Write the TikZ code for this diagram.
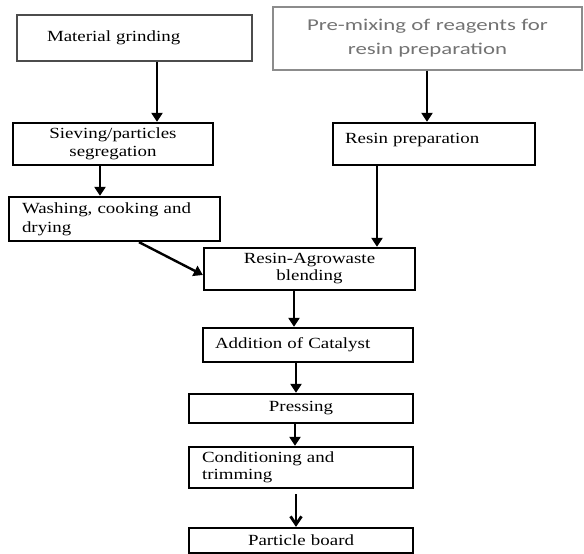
\documentclass[tikz,border=0pt]{standalone}
\usepackage{fontspec}
\setmainfont[FakeStretch=1.22]{Liberation Serif}
\newfontfamily\calfont[FakeStretch=1.38]{Carlito}
\usetikzlibrary{arrows.meta}
\begin{document}
\begin{tikzpicture}[x=1pt,y=-1pt,
  box/.style={draw=black, line width=2.3pt, rectangle, inner ysep=0pt,
    font=\fontsize{15.5}{18}\selectfont},
  thinbox/.style={draw=black!55, line width=1.1pt, rectangle, inner ysep=0pt},
  arr/.style={line width=2.8pt, -{Triangle[length=9pt,width=11pt]}}]
\useasboundingbox (0,0) rectangle (584,554);
\fill[white] (0,0) rectangle (584,554);

\node[thinbox, draw=black!70, minimum width=235pt, minimum height=46pt, inner xsep=30pt,
  text width=175pt, align=left, font=\fontsize{15.5}{18}\selectfont]
  (grind) at (134.5,38) {Material grinding};
\node[thinbox, draw=black!45, minimum width=309pt, minimum height=63pt,
  text width=300pt, align=center, text=black!55,
  font=\calfont\fontsize{16.5}{24}\selectfont]
  (premix) at (427.5,38.5) {Pre-mixing of reagents for\\resin preparation};

\node[box, minimum width=200pt, minimum height=42pt, text width=190pt, align=center]
  (sieve) at (113,144) {Sieving/particles\\segregation};
\node[box, minimum width=211pt, minimum height=44pt, inner xsep=13pt,
  text width=185pt, align=left, font=\fontsize{15.5}{19}\selectfont]
  (wash) at (114.5,219) {Washing, cooking and\\drying};
\node[box, minimum width=202pt, minimum height=42pt, inner xsep=12pt,
  text width=178pt, align=left]
  (resin) at (434,144) {Resin preparation\\[-6pt]~};
\node[box, minimum width=211pt, minimum height=42pt, text width=200pt,
  align=center, font=\fontsize{15.5}{17}\selectfont]
  (blend) at (309.5,269) {Resin-Agrowaste\\blending};
\node[box, minimum width=210pt, minimum height=34pt, inner xsep=12pt,
  text width=186pt, align=left]
  (addit) at (308,345) {Addition of Catalyst};
\node[box, minimum width=224pt, minimum height=29pt, text width=214pt, align=center]
  (press) at (301,408.5) {Pressing};
\node[box, minimum width=224pt, minimum height=41pt, inner xsep=13pt,
  text width=198pt, align=left, font=\fontsize{15.5}{17}\selectfont]
  (cond) at (301,467.5) {Conditioning and\\trimming};
\node[box, minimum width=224pt, minimum height=25pt, text width=214pt, align=center]
  (board) at (301,540.5) {Particle board};

\coordinate (x1) at (157,0);
\coordinate (x2) at (427,0);
\coordinate (x3) at (100,0);
\coordinate (x4) at (139,0);
\coordinate (x5) at (377,0);
\coordinate (x6) at (294,0);
\coordinate (x7) at (296,0);
\coordinate (x8) at (295,0);

\draw[arr] (grind.south -| x1) -- (sieve.north -| x1);
\draw[arr] (premix.south -| x2) -- (resin.north -| x2);
\draw[arr] (sieve.south -| x3) -- (wash.north -| x3);
\draw[arr, line width=2.4pt] (wash.south -| x4) -- ([yshift=-6pt]blend.west);
\draw[arr] (resin.south -| x5) -- (blend.north -| x5);
\draw[arr] (blend.south -| x6) -- (addit.north -| x6);
\draw[arr] (addit.south -| x7) -- (press.north -| x7);
\draw[arr] (press.south -| x8) -- (cond.north -| x8);
\draw[line width=2.8pt, -{Straight Barb[length=8pt,width=11pt]}]
  ([yshift=-5pt]cond.south -| x7) -- (board.north -| x7);
\end{tikzpicture}
\end{document}
